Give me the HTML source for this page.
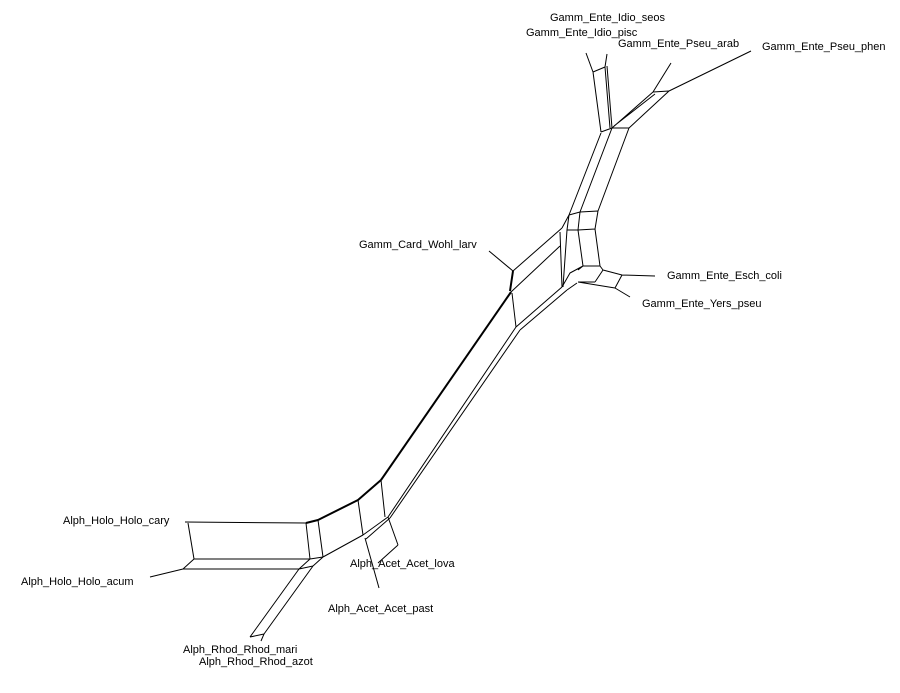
<!DOCTYPE html>
<html><head><meta charset="utf-8"><style>
html,body{margin:0;padding:0;background:#fff;}
svg{display:block;}
text{font-family:"Liberation Sans",sans-serif;font-size:11px;fill:#000;dominant-baseline:middle;}
</style></head><body>
<svg width="900" height="693" viewBox="0 0 900 693" xmlns="http://www.w3.org/2000/svg">
<g stroke="#000" stroke-width="1" fill="none" stroke-linejoin="round">
<!-- top leaves -->
<path d="M586,53 L593,72 M607,54 L605,67 M671,63 L653,92 M751,51 L669,91"/>
<path d="M593,72 L605,67 M593,72 L601,132 M605,67 L610,128 M607,66 L612,128 M601,132 L612,128"/>
<path d="M653,92 L669,91 M653,92 L612,128 M655,94 L614,126 M669,91 L629,128 M612,128 L629,128"/>
<!-- upper trunk -->
<path d="M601,133 L569,215 M612,128 L580,212 M629,128 L598,211"/>
<path d="M580,212 L598,211 M580,212 L578,230 L583,266 M598,211 L595,229 L600,266 M578,230 L595,229"/>
<path d="M569,215 L580,212 M569,215 L567,230 L563,287 M567,230 L578,230 M560,232 L562,287 M569,215 L562,228"/>
<path d="M583,266 L600,266 M600,266 L603,270 L622,275 L655,276 M603,270 L595,282 M578,282 L595,282 M622,275 L615,288 M578,282 L615,288 L630,297"/>
<path d="M583,266 L570,273 L562,287 M583,266 L578,270 M577,283 L567,290"/>
<!-- Card -->
<path d="M489,251 L513,271 M513,271 L562,228 M511,292 L560,246"/>
<path d="M513,271 L510,291" stroke-width="2"/>
<path d="M512,293 L516,327 M516,327 L562,287 M520,330 L567,290"/>
<!-- long trunks -->
<path d="M511,292 L381,480" stroke-width="2"/>
<path d="M381,480 L358,500 L318,520 L306,523" stroke-width="2"/>
<path d="M516,327 L388,517 M520,330 L390,518"/>
<!-- lower left -->
<path d="M185,522 L306,523 M188,523 L194,559 M194,559 L310,559 M306,523 L310,559 M318,520 L323,557 M310,559 L323,557"/>
<path d="M150,577 L183,569 L194,559 M183,569 L299,569 L310,559 M313,566 L323,557 M299,569 L313,566"/>
<path d="M299,569 L250,637 M313,566 L264,634 M250,637 L264,634 M264,634 L261,641"/>
<path d="M358,500 L363,535 M381,480 L385,517 M323,557 L363,535 M363,535 L388,517 M366,539 L390,518 M388,517 L398,545 M398,545 L378,563 M365,538 L379,588"/>
</g>
<text x="550" y="18">Gamm_Ente_Idio_seos</text>
<text x="526" y="33">Gamm_Ente_Idio_pisc</text>
<text x="618" y="44">Gamm_Ente_Pseu_arab</text>
<text x="762" y="47">Gamm_Ente_Pseu_phen</text>
<text x="359" y="245">Gamm_Card_Wohl_larv</text>
<text x="667" y="276">Gamm_Ente_Esch_coli</text>
<text x="642" y="304">Gamm_Ente_Yers_pseu</text>
<text x="63" y="521">Alph_Holo_Holo_cary</text>
<text x="21" y="582">Alph_Holo_Holo_acum</text>
<text x="350" y="564">Alph_Acet_Acet_lova</text>
<text x="328" y="609">Alph_Acet_Acet_past</text>
<text x="183" y="650">Alph_Rhod_Rhod_mari</text>
<text x="199" y="662">Alph_Rhod_Rhod_azot</text>
</svg>
</body></html>
